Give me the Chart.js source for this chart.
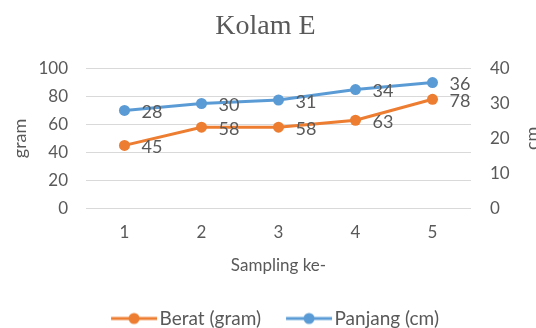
<!DOCTYPE html>
<html>
<head>
<meta charset="utf-8">
<script src="https://cdn.jsdelivr.net/npm/chart.js@4/dist/chart.umd.min.js"></script>
<style>
  html, body { margin: 0; padding: 0; background: #fff; overflow: hidden; }
</style>
</head>
<body>
<canvas id="c" width="536" height="328"></canvas>
<script>
// Sampling rounds and measurements for pond E
const samplings = ['1', '2', '3', '4', '5'];
const beratGram = [45, 58, 58, 63, 78];
const panjangCm = [28, 30, 31, 34, 36];

const ORANGE = '#ED7D31';
const BLUE = '#5B9BD5';
const TEXT = '#595959';
const GRID = '#D9D9D9';
const SANS = 'Lato, "Open Sans", sans-serif';

// legend marker: short line with a dot in the middle, sitting close to its text
function legendMarker(color) {
  const cv = document.createElement('canvas');
  cv.width = 62; cv.height = 14;
  const g = cv.getContext('2d');
  g.strokeStyle = color; g.lineWidth = 3;
  g.beginPath(); g.moveTo(15, 7); g.lineTo(61, 7); g.stroke();
  g.fillStyle = color;
  g.beginPath(); g.arc(38, 7, 5.5, 0, Math.PI * 2); g.fill();
  return cv;
}

// value labels to the right of each point
const valueLabels = {
  id: 'valueLabels',
  afterDatasetsDraw(chart) {
    const ctx = chart.ctx;
    ctx.save();
    ctx.font = '18px ' + SANS;
    ctx.fillStyle = TEXT;
    ctx.textAlign = 'left';
    ctx.textBaseline = 'middle';
    chart.data.datasets.forEach((ds, i) => {
      const meta = chart.getDatasetMeta(i);
      meta.data.forEach((pt, j) => {
        ctx.fillText(String(ds.data[j]), pt.x + 17, pt.y + 2);
      });
    });
    ctx.restore();
  }
};

// secondary axis title reads bottom-to-top like the primary one
const rightTitle = {
  id: 'rightTitle',
  afterDraw(chart) {
    const s = chart.scales.y1;
    const ctx = chart.ctx;
    ctx.save();
    ctx.font = '18px ' + SANS;
    ctx.fillStyle = TEXT;
    ctx.textAlign = 'center';
    ctx.textBaseline = 'middle';
    ctx.translate(s.right + 1, (s.top + s.bottom) / 2);
    ctx.rotate(-Math.PI / 2);
    ctx.fillText('cm', 0, 0);
    ctx.restore();
  }
};

// nudge the legend row a little to the right
const legendShift = {
  id: 'legendShift',
  afterLayout(chart) {
    if (chart.legend) {
      chart.legend.left += 6;
      chart.legend.right += 6;
    }
  }
};

new Chart(document.getElementById('c'), {
  type: 'line',
  data: {
    labels: samplings,
    datasets: [
      {
        label: 'Berat (gram)',
        data: beratGram,
        yAxisID: 'y',
        borderColor: ORANGE,
        backgroundColor: ORANGE,
        borderWidth: 3,
        pointRadius: 5.5,
        pointBackgroundColor: ORANGE,
        pointBorderWidth: 0,
        tension: 0
      },
      {
        label: 'Panjang (cm)',
        data: panjangCm,
        yAxisID: 'y1',
        borderColor: BLUE,
        backgroundColor: BLUE,
        borderWidth: 3,
        pointRadius: 5.5,
        pointBackgroundColor: BLUE,
        pointBorderWidth: 0,
        tension: 0
      }
    ]
  },
  options: {
    responsive: false,
    animation: false,
    layout: { padding: { left: 0, right: 5, top: 0, bottom: -10 } },
    plugins: {
      title: {
        display: true,
        text: 'Kolam E',
        color: TEXT,
        font: { family: '"Liberation Serif", "Times New Roman", serif', size: 28, weight: 'normal' },
        padding: { top: 10, bottom: 25 }
      },
      legend: {
        position: 'bottom',
        labels: {
          color: TEXT,
          font: { family: SANS, size: 19 },
          usePointStyle: true,
          pointStyleWidth: 46,
          padding: 18,
          generateLabels(chart) {
            return chart.data.datasets.map((ds, i) => ({
              text: ds.label,
              fillStyle: ds.borderColor,
              strokeStyle: ds.borderColor,
              lineWidth: 0,
              pointStyle: legendMarker(ds.borderColor),
              hidden: false,
              datasetIndex: i,
              fontColor: TEXT
            }));
          }
        }
      },
      tooltip: { enabled: false }
    },
    scales: {
      x: {
        offset: true,
        grid: { display: false, drawTicks: false },
        border: { display: false },
        ticks: { color: TEXT, font: { family: SANS, size: 17 }, padding: 14 },
        title: {
          display: true,
          text: 'Sampling ke-',
          color: TEXT,
          font: { family: SANS, size: 17 },
          padding: { top: -1, bottom: 15 }
        }
      },
      y: {
        position: 'left',
        min: 0, max: 100,
        afterFit(scale) { scale.width = 86; },
        ticks: { stepSize: 20, color: TEXT, font: { family: SANS, size: 17 }, padding: 18 },
        grid: { color: GRID, lineWidth: 1, drawTicks: false },
        border: { display: false },
        title: {
          display: true,
          text: 'gram',
          color: TEXT,
          font: { family: SANS, size: 18 },
          padding: { top: 9, bottom: 8 }
        }
      },
      y1: {
        position: 'right',
        min: 0, max: 40,
        afterFit(scale) { scale.width = 60; },
        ticks: { stepSize: 10, color: TEXT, font: { family: SANS, size: 17 }, padding: 19 },
        grid: { display: false, drawTicks: false },
        border: { display: false },
        title: {
          display: true,
          text: 'cm',
          color: 'rgba(0,0,0,0)',
          font: { family: SANS, size: 18 },
          padding: { top: 2, bottom: 0 }
        }
      }
    }
  },
  plugins: [valueLabels, rightTitle, legendShift]
});
</script>
</body>
</html>
